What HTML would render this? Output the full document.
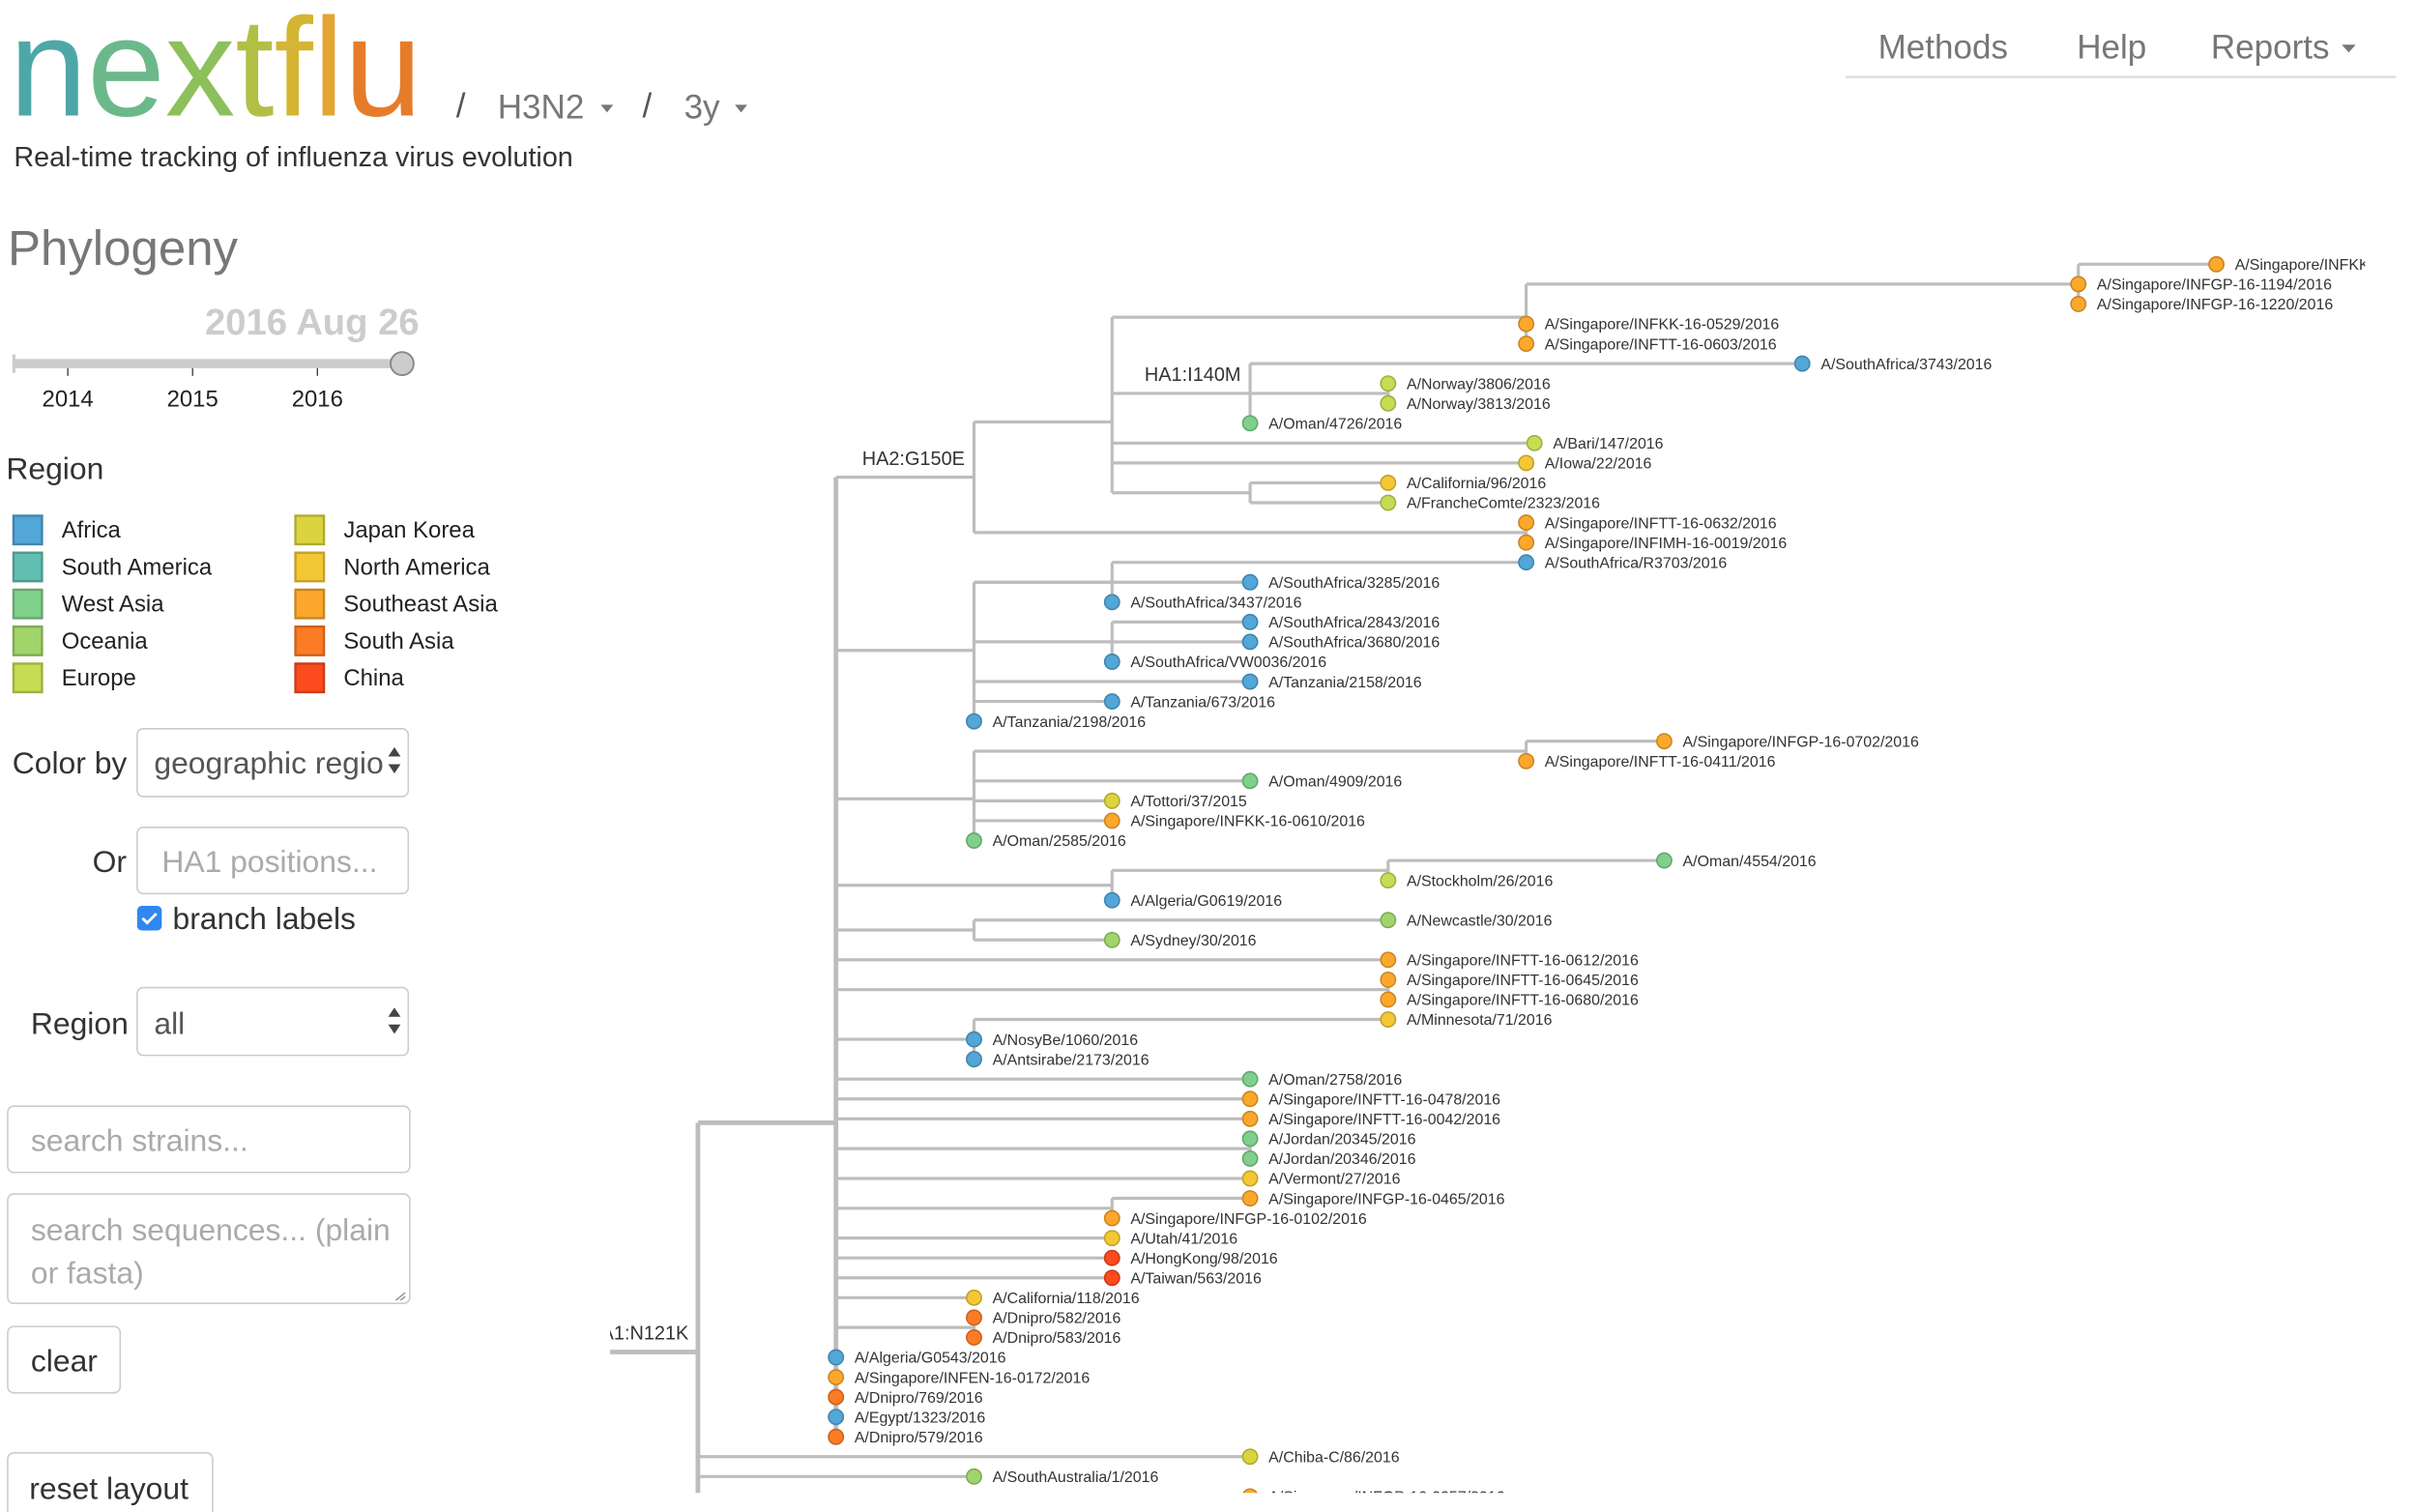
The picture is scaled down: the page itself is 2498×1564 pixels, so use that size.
<!DOCTYPE html>
<html><head><meta charset="utf-8"><style>
html,body{margin:0;padding:0;background:#fff;width:2498px;height:1564px;overflow:hidden}
svg{display:block}
text{font-family:"Liberation Sans",sans-serif}
</style></head><body>
<svg id="root" width="2498" height="1564" viewBox="0 0 1567.5 981.4" xmlns="http://www.w3.org/2000/svg">
<defs><clipPath id="treeclip"><rect x="396" y="150" width="1139" height="819"/></clipPath></defs>
<!-- header -->
<g>
<text x="6" y="75" font-size="91" textLength="268" lengthAdjust="spacingAndGlyphs"><tspan fill="#4ea7a7">n</tspan><tspan fill="#6bb98a">e</tspan><tspan fill="#8cc05a">x</tspan><tspan fill="#b2bf45">t</tspan><tspan fill="#d4b534">f</tspan><tspan fill="#e3a533">l</tspan><tspan fill="#e67c2a">u</tspan></text>
</g>
<text x="296" y="76" font-size="22" fill="#555">/</text>
<text x="323" y="77" font-size="22" fill="#777">H3N2</text>
<path d="M390 68 l8 0 l-4 5z" fill="#777"/>
<text x="417" y="76" font-size="22" fill="#555">/</text>
<text x="444" y="77" font-size="22" fill="#777">3y</text>
<path d="M477 68 l8 0 l-4 5z" fill="#777"/>
<text x="9" y="108" font-size="18" fill="#333" textLength="363" lengthAdjust="spacingAndGlyphs">Real-time tracking of influenza virus evolution</text>
<text x="1219" y="38" font-size="22" fill="#777">Methods</text>
<text x="1348" y="38" font-size="22" fill="#777">Help</text>
<text x="1435" y="38" font-size="22" fill="#777">Reports</text>
<path d="M1520 29 l9 0 l-4.5 5z" fill="#777"/>
<line x1="1198" y1="50" x2="1555" y2="50" stroke="#ddd" stroke-width="1.5"/>
<!-- sidebar -->
<text x="5" y="172" font-size="32" fill="#777">Phylogeny</text>
<text x="133" y="217" font-size="24" font-weight="bold" fill="#ccc">2016 Aug 26</text>
<g>
<rect x="9" y="233" width="252" height="6" fill="#ccc"/>
<rect x="8" y="230" width="2" height="12" fill="#ccc"/>
<line x1="44" y1="239" x2="44" y2="244" stroke="#333" stroke-width="0.8"/>
<line x1="125" y1="239" x2="125" y2="244" stroke="#333" stroke-width="0.8"/>
<line x1="206" y1="239" x2="206" y2="244" stroke="#333" stroke-width="0.8"/>
<text x="44" y="264" font-size="15" fill="#222" text-anchor="middle">2014</text>
<text x="125" y="264" font-size="15" fill="#222" text-anchor="middle">2015</text>
<text x="206" y="264" font-size="15" fill="#222" text-anchor="middle">2016</text>
<circle cx="261" cy="236" r="7.5" fill="#ccc" stroke="#888" stroke-width="1.2"/>
</g>
<text x="4" y="311" font-size="20" fill="#333">Region</text>
<g id="legend"></g>
<text x="8" y="502" font-size="20" fill="#333">Color by</text>
<rect x="89" y="473" width="176" height="44" rx="4" fill="#fff" stroke="#ccc"/>
<text x="100" y="502" font-size="20" fill="#555">geographic regio</text>
<path d="M252 491 l4 -6 l4 6z M252 496 l4 6 l4 -6z" fill="#444"/>
<text x="60" y="566" font-size="20" fill="#333">Or</text>
<rect x="89" y="537" width="176" height="43" rx="4" fill="#fff" stroke="#ccc"/>
<text x="105" y="566" font-size="20" fill="#aaa">HA1 positions...</text>
<rect x="89" y="588" width="16" height="16" rx="3" fill="#2f87f0"/>
<path d="M92.5 596 l3 3 l6 -6" stroke="#fff" stroke-width="1.8" fill="none"/>
<text x="112" y="603" font-size="20" fill="#333">branch labels</text>
<text x="20" y="671" font-size="20" fill="#333">Region</text>
<rect x="89" y="641" width="176" height="44" rx="4" fill="#fff" stroke="#ccc"/>
<text x="100" y="671" font-size="20" fill="#555">all</text>
<path d="M252 660 l4 -6 l4 6z M252 665 l4 6 l4 -6z" fill="#444"/>
<rect x="5" y="718" width="261" height="43" rx="4" fill="#fff" stroke="#ccc"/>
<text x="20" y="747" font-size="20" fill="#aaa">search strains...</text>
<rect x="5" y="775" width="261" height="71" rx="4" fill="#fff" stroke="#ccc"/>
<text x="20" y="805" font-size="20" fill="#aaa">search sequences... (plain</text>
<text x="20" y="833" font-size="20" fill="#aaa">or fasta)</text>
<path d="M257 844 l6 -5 M260 844 l3 -2.5" stroke="#888" stroke-width="0.8"/>
<rect x="5" y="861" width="73" height="43" rx="4" fill="#fff" stroke="#ccc"/>
<text x="20" y="890" font-size="20" fill="#333">clear</text>
<rect x="5" y="943" width="133" height="50" rx="4" fill="#fff" stroke="#ccc"/>
<text x="19" y="973" font-size="20" fill="#333">reset layout</text>
<g id="tree" clip-path="url(#treeclip)"></g>
</svg>
<script>
// ---- legend data ----
const regionKeys = ["af","sa","wa","oc","eu","jk","na","sea","sas","cn"];
const regionNames = ["Africa","South America","West Asia","Oceania","Europe","Japan Korea","North America","Southeast Asia","South Asia","China"];
const regionColors = ["#52a6d8","#61bfb1","#7fd08b","#a1d56b","#c6dc52","#dcd43f","#f4c835","#fca82c","#fd7b25","#fd4b1e"];

// ---- tree data ----
const leafNames = ["A/Singapore/INFKK-16-0744/2016","A/Singapore/INFGP-16-1194/2016","A/Singapore/INFGP-16-1220/2016","A/Singapore/INFKK-16-0529/2016","A/Singapore/INFTT-16-0603/2016","A/SouthAfrica/3743/2016","A/Norway/3806/2016","A/Norway/3813/2016","A/Oman/4726/2016","A/Bari/147/2016","A/Iowa/22/2016","A/California/96/2016","A/FrancheComte/2323/2016","A/Singapore/INFTT-16-0632/2016","A/Singapore/INFIMH-16-0019/2016","A/SouthAfrica/R3703/2016","A/SouthAfrica/3285/2016","A/SouthAfrica/3437/2016","A/SouthAfrica/2843/2016","A/SouthAfrica/3680/2016","A/SouthAfrica/VW0036/2016","A/Tanzania/2158/2016","A/Tanzania/673/2016","A/Tanzania/2198/2016","A/Singapore/INFGP-16-0702/2016","A/Singapore/INFTT-16-0411/2016","A/Oman/4909/2016","A/Tottori/37/2015","A/Singapore/INFKK-16-0610/2016","A/Oman/2585/2016","A/Oman/4554/2016","A/Stockholm/26/2016","A/Algeria/G0619/2016","A/Newcastle/30/2016","A/Sydney/30/2016","A/Singapore/INFTT-16-0612/2016","A/Singapore/INFTT-16-0645/2016","A/Singapore/INFTT-16-0680/2016","A/Minnesota/71/2016","A/NosyBe/1060/2016","A/Antsirabe/2173/2016","A/Oman/2758/2016","A/Singapore/INFTT-16-0478/2016","A/Singapore/INFTT-16-0042/2016","A/Jordan/20345/2016","A/Jordan/20346/2016","A/Vermont/27/2016","A/Singapore/INFGP-16-0465/2016","A/Singapore/INFGP-16-0102/2016","A/Utah/41/2016","A/HongKong/98/2016","A/Taiwan/563/2016","A/California/118/2016","A/Dnipro/582/2016","A/Dnipro/583/2016","A/Algeria/G0543/2016","A/Singapore/INFEN-16-0172/2016","A/Dnipro/769/2016","A/Egypt/1323/2016","A/Dnipro/579/2016","A/Chiba-C/86/2016","A/SouthAustralia/1/2016","A/Singapore/INFGP-16-0357/2016"];
const leafRegions = ["sea","sea","sea","sea","sea","af","eu","eu","wa","eu","na","na","eu","sea","sea","af","af","af","af","af","af","af","af","af","sea","sea","wa","jk","sea","wa","wa","eu","af","oc","oc","sea","sea","sea","na","af","af","wa","sea","sea","wa","wa","na","sea","sea","na","cn","cn","na","sas","sas","af","sea","sas","af","sas","jk","oc","sea"];
const leafDivs = [11,10,10,6,6,8,5,5,4,6.06,6,5,5,6,6,6,4,3,4,4,3,4,3,2,7,6,4,3,3,2,7,5,3,5,3,5,5,5,5,2,2,4,4,4,4,4,4,4,3,3,3,3,2,2,2,1,1,1,1,1,4,2,4];
const rootStemDiv = -0.65;
const nodeIds = ["root","A","B","B1","B11","B111","B12","B12a","B14","B2","C","C1","C2","D","D1","E","E1","F","G","H","J","K","Dn"];
const nodeDivs = [0,1,2,3,6,10,4,5,4,6,2,3,3,2,6,3,5,2,5,2,4,3,2];
const nodeKids = [
 ["A","L60","L61","L62"],
 ["B","C","D","E","F","L35","G","H","L41","L42","L43","J","L46","K","L49","L50","L51","L52","Dn","L55","L56","L57","L58","L59"],
 ["B1","B2"],
 ["B11","B12","L9","L10","B14"],
 ["B111","L3","L4"],
 ["L0","L1","L2"],
 ["L5","B12a","L8"],
 ["L6","L7"],
 ["L11","L12"],
 ["L13","L14"],
 ["C1","L16","C2","L19","L21","L22","L23"],
 ["L15","L17"],
 ["L18","L20"],
 ["D1","L26","L27","L28","L29"],
 ["L24","L25"],
 ["E1","L32"],
 ["L30","L31"],
 ["L33","L34"],
 ["L36","L37"],
 ["L38","L39","L40"],
 ["L44","L45"],
 ["L47","L48"],
 ["L53","L54"]
];
const branchLabelNodes = ["root","B","B12"];
const branchLabelTexts = ["HA1:N121K","HA2:G150E","HA1:I140M"];

// ---- scales ----
const xScale = d => 453 + d * 89.6;
const yScale = i => 171.5 + i * 12.9;
const NS = "http://www.w3.org/2000/svg";
function mk(tag, attrs, parent){const e=document.createElementNS(NS,tag);for(const k in attrs)e.setAttribute(k,attrs[k]);parent.appendChild(e);return e;}
function darker(hex){const n=parseInt(hex.slice(1),16);const f=0.8;const r=Math.round((n>>16)*f),g=Math.round(((n>>8)&255)*f),b=Math.round((n&255)*f);return "rgb("+r+","+g+","+b+")";}

// legend
const lg=document.getElementById("legend");
regionNames.forEach((nm,i)=>{
  const col=i<5?0:1,row=i%5;
  const x=col?191:8, y=334+row*24;
  const r=mk("rect",{x:x+0.75,y:y+0.75,width:18.5,height:18.5,fill:regionColors[i],stroke:darker(regionColors[i]),"stroke-width":1.5},lg);
  
  
  const t=mk("text",{x:x+32,y:y+15,"font-size":15,fill:"#222"},lg);
  t.textContent=nm;
  
  
});

// tree
const nodes={};
nodeIds.forEach((id,i)=>{nodes[id]={id:id,d:nodeDivs[i],kids:nodeKids[i],leaf:false};});
leafNames.forEach((nm,i)=>{nodes["L"+i]={id:"L"+i,d:leafDivs[i],leaf:true,idx:i,y:yScale(i)};});
function layout(id){const n=nodes[id];if(n.leaf)return n.y;
  const ys=n.kids.map(k=>layout(k));
  const use = id==="root" ? ys.slice(0,3) : ys;
  n.y=use.reduce((a,b)=>a+b,0)/use.length;n.ymin=Math.min(...ys);n.ymax=Math.max(...ys);return n.y;}
layout("root");
const tree=document.getElementById("tree");
const gB=mk("g",{},tree), gD=mk("g",{},tree), gT=mk("g",{},tree);
const stroke="#bdbdbd";
function draw(id,parentD){
  const n=nodes[id];
  const w=(id==="root"||id==="A")?3:2;
  const h=mk("line",{x1:xScale(parentD),y1:n.y,x2:xScale(n.d),y2:n.y,stroke:stroke,"stroke-width":w},gB);
  
  
  if(!n.leaf){
    const v=mk("line",{x1:xScale(n.d),y1:n.ymin,x2:xScale(n.d),y2:n.ymax,stroke:stroke,"stroke-width":w},gB);
    
    
    n.kids.forEach(k=>draw(k,n.d));
  } else {
    const c=regionColors[regionKeys.indexOf(leafRegions[n.idx])];
    const dot=mk("circle",{cx:xScale(n.d),cy:n.y,r:4.8,fill:c,stroke:darker(c),"stroke-width":1},gD);
    
    
    const t=mk("text",{x:xScale(n.d)+12,y:n.y+3.6,"font-size":10,fill:"#333"},gT);
    t.textContent=leafNames[n.idx];
    
    
  }
}
draw("root",rootStemDiv);
branchLabelNodes.forEach((id,i)=>{
  const n=nodes[id];
  const t=mk("text",{x:xScale(n.d)-6,y:n.y-8,"font-size":12.5,fill:"#333","text-anchor":"end"},gT);
  t.textContent=branchLabelTexts[i];
  
  
});
</script>
</body></html>
